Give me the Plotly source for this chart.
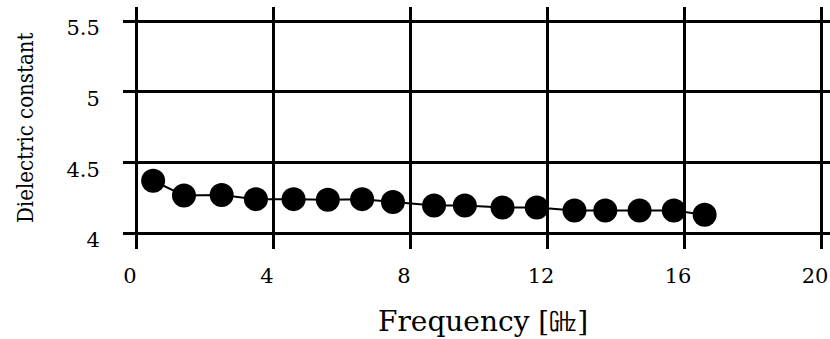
import plotly.graph_objects as go

freq = [0.5, 1.4, 2.5, 3.5, 4.6, 5.6, 6.6, 7.5, 8.7, 9.6, 10.7, 11.7, 12.8, 13.7, 14.7, 15.7, 16.6]
eps = [4.37, 4.265, 4.27, 4.24, 4.24, 4.235, 4.24, 4.22, 4.195, 4.195, 4.18, 4.18, 4.16, 4.16, 4.16, 4.16, 4.13]
x_ticks = [0, 4, 8, 12, 16, 20]
y_ticks = [4, 4.5, 5, 5.5]
y_tick_text = ["4", "4.5", "5", "5.5"]

fig = go.Figure()
fig.add_trace(go.Scatter(
    x=freq, y=eps, mode="lines+markers",
    line=dict(color="black", width=2),
    marker=dict(color="black", size=24),
    showlegend=False,
))

tickfont = dict(family="DejaVu Serif", size=21, color="black")
fig.update_layout(
    width=830, height=339,
    margin=dict(l=123, r=0, t=7, b=90),
    paper_bgcolor="white", plot_bgcolor="white",
    xaxis=dict(
        range=[-0.38, 20.26], tickvals=x_ticks, ticktext=[str(v) for v in x_ticks],
        showgrid=True, gridcolor="black", gridwidth=2.5, zeroline=False,
        showline=False, ticks="outside", ticklen=8, tickcolor="rgba(0,0,0,0)",
        tickfont=tickfont, ticklabelshift=-6,
    ),
    yaxis=dict(
        range=[3.887, 5.60], tickvals=y_ticks, ticktext=y_tick_text,
        showgrid=True, gridcolor="black", gridwidth=2.5, zeroline=False,
        showline=False, ticks="outside", ticklen=18, tickcolor="rgba(0,0,0,0)",
        tickfont=tickfont, ticklabelshift=7,
    ),
    annotations=[
        dict(text="Frequency [㎓]", xref="paper", yref="paper", x=0.509, y=-0.30,
             xanchor="center", yanchor="middle", showarrow=False,
             font=dict(family="DejaVu Serif", size=28, color="black")),
        dict(text="Dielectric constant", xref="paper", yref="paper", x=-0.1386, y=0.5,
             xanchor="center", yanchor="middle", showarrow=False, textangle=-90,
             font=dict(family="DejaVu Serif Condensed, DejaVu Serif", size=22, color="black")),
    ],
)

fig.write_html("out.html")
